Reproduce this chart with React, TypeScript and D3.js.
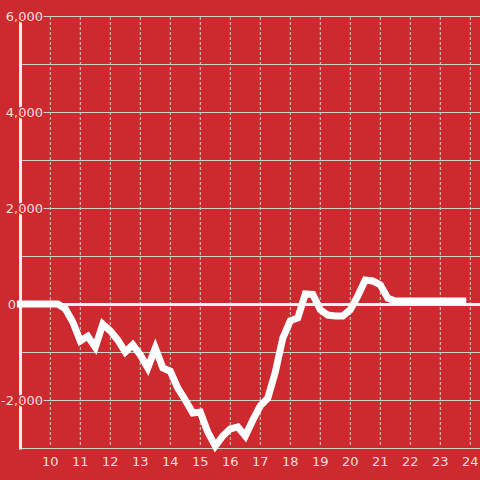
import React from "react";
import * as d3 from "d3";

const hours: number[] = [
  9.0, 9.25, 9.5, 9.75, 10.0, 10.25, 10.5, 10.75, 11.0, 11.25, 11.5, 11.75,
  12.0, 12.25, 12.5, 12.75, 13.0, 13.25, 13.5, 13.75, 14.0, 14.25, 14.5, 14.75,
  15.0, 15.25, 15.5, 15.75, 16.0, 16.25, 16.5, 16.75, 17.0, 17.25, 17.5, 17.75,
  18.0, 18.25, 18.5, 18.75, 19.0, 19.25, 19.5, 19.75, 20.0, 20.25, 20.5, 20.75,
  21.0, 21.25, 21.5, 21.75, 22.0, 22.25, 22.5, 22.75, 23.0, 23.25, 23.5, 23.75,
];
const values: number[] = [
  0, 0, 0, 0, 0, 0, -100, -375, -770, -670, -900, -420,
  -560, -750, -1000, -850, -1060, -1330, -920, -1330, -1400, -1750, -2000, -2270,
  -2250, -2670, -2960, -2750, -2600, -2560, -2750, -2420, -2120, -1960, -1420, -710,
  -350, -290, 210, 200, -120, -230, -250, -250, -120, 170, 500, 480,
  400, 120, 60, 60, 60, 60, 60, 60, 60, 60, 60, 60,
];
const xTicks: number[] = [10, 11, 12, 13, 14, 15, 16, 17, 18, 19, 20, 21, 22, 23, 24];
const yGrid: number[] = [6000, 5000, 4000, 3000, 2000, 1000, 0, -1000, -2000, -3000];
const yLabels: number[] = [6000, 4000, 2000, 0, -2000];

const W = 480;
const H = 480;
const BG = "#cc2a2e";
const TEXT = "rgba(255,255,255,0.85)";
const GRID = "#cfcfcf";

export default function App() {
  const x = d3.scaleLinear().domain([10, 24]).range([50.3, 470.3]);
  const y = d3.scaleLinear().domain([6000, -3000]).range([16, 448]);
  const fmt = d3.format(",");
  const pts: [number, number][] = hours.map((h, i) => [h, values[i]]);
  const line = d3
    .line<[number, number]>()
    .x((d) => x(d[0]))
    .y((d) => y(d[1]));

  return (
    <svg
      width={W}
      height={H}
      style={{ position: "absolute", left: 0, top: 0, display: "block" }}
      fontFamily="DejaVu Sans, sans-serif"
      fontSize={13}
    >
      <rect x={0} y={0} width={W} height={H} fill={BG} />
      {xTicks.map((t) => (
        <line
          key={"vx" + t}
          x1={x(t)}
          x2={x(t)}
          y1={17}
          y2={446}
          stroke={GRID}
          strokeWidth={1}
          strokeDasharray="3,2"
        />
      ))}
      {yGrid.map((v) => (
        <line
          key={"gy" + v}
          x1={22}
          x2={W}
          y1={Math.round(y(v)) + 0.5}
          y2={Math.round(y(v)) + 0.5}
          stroke={GRID}
          strokeWidth={1}
        />
      ))}
      <line x1={20.5} x2={20.5} y1={y(6000)} y2={y(-3000) + 1.5} stroke="#f2f2f2" strokeWidth={3} />
      <line x1={17} x2={W} y1={y(0) + 0.5} y2={y(0) + 0.5} stroke="#f4f4f4" strokeWidth={3} />
      <path
        d={line(pts) || ""}
        fill="none"
        stroke="#ffffff"
        strokeWidth={7}
        strokeLinecap="square"
        strokeLinejoin="miter"
      />
      {yLabels.map((v) => (
        <text
          key={"ly" + v}
          x={v === 0 ? 16 : 43}
          y={y(v)}
          dy="0.35em"
          textAnchor="end"
          fill={TEXT}
          stroke={BG}
          strokeWidth={3}
          paintOrder="stroke"
        >
          {v < 0 ? "-" + fmt(-v) : fmt(v)}
        </text>
      ))}
      {xTicks.map((t) => (
        <text key={"lx" + t} x={x(t)} y={466} textAnchor="middle" fill={TEXT}>
          {t}
        </text>
      ))}
    </svg>
  );
}
